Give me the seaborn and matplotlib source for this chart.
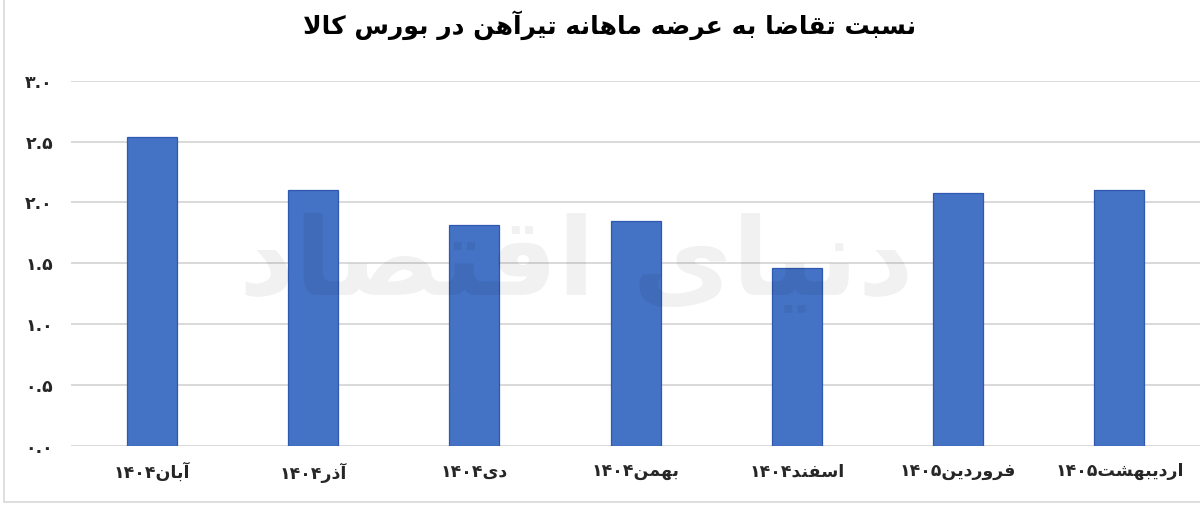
import matplotlib
matplotlib.use('Agg')
import matplotlib.pyplot as plt
import seaborn as sns
import pandas as pd
from matplotlib.lines import Line2D

# data
months = ['آبان', 'آذر', 'دی', 'بهمن', 'اسفند', 'فروردین', 'اردیبهشت']
years = ['۱۴۰۴', '۱۴۰۴', '۱۴۰۴', '۱۴۰۴', '۱۴۰۴', '۱۴۰۵', '۱۴۰۵']
ratio = [2.54, 2.10, 1.81, 1.85, 1.46, 2.08, 2.10]
y_ticks = [0.0, 0.5, 1.0, 1.5, 2.0, 2.5, 3.0]
title = 'نسبت تقاضا به عرضه ماهانه تیرآهن در بورس کالا'
watermark = 'دنیای اقتصاد'

# matplotlib has no arabic shaping, so pick presentation forms by hand
# (isolated, final, initial, medial); right-joining letters have 2 forms only
FORMS = {
    'ا': ('\uFE8D', '\uFE8E'), 'آ': ('\uFE81', '\uFE82'),
    'د': ('\uFEA9', '\uFEAA'), 'ذ': ('\uFEAB', '\uFEAC'),
    'ر': ('\uFEAD', '\uFEAE'), 'ز': ('\uFEAF', '\uFEB0'),
    'و': ('\uFEED', '\uFEEE'),
    'ب': ('\uFE8F', '\uFE90', '\uFE91', '\uFE92'),
    'ت': ('\uFE95', '\uFE96', '\uFE97', '\uFE98'),
    'س': ('\uFEB1', '\uFEB2', '\uFEB3', '\uFEB4'),
    'ش': ('\uFEB5', '\uFEB6', '\uFEB7', '\uFEB8'),
    'ص': ('\uFEB9', '\uFEBA', '\uFEBB', '\uFEBC'),
    'ض': ('\uFEBD', '\uFEBE', '\uFEBF', '\uFEC0'),
    'ع': ('\uFEC9', '\uFECA', '\uFECB', '\uFECC'),
    'ف': ('\uFED1', '\uFED2', '\uFED3', '\uFED4'),
    'ق': ('\uFED5', '\uFED6', '\uFED7', '\uFED8'),
    'ل': ('\uFEDD', '\uFEDE', '\uFEDF', '\uFEE0'),
    'م': ('\uFEE1', '\uFEE2', '\uFEE3', '\uFEE4'),
    'ن': ('\uFEE5', '\uFEE6', '\uFEE7', '\uFEE8'),
    'ه': ('\uFEE9', '\uFEEA', '\uFEEB', '\uFEEC'),
    'ک': ('\uFB8E', '\uFB8F', '\uFB90', '\uFB91'),
    'ی': ('\uFBFC', '\uFBFD', '\uFBFE', '\uFBFF'),
}
LTR = set('۰۱۲۳۴۵۶۷۸۹0123456789.')


def shape(text):
    chars = list(text)
    # lam + alef ligature
    merged = []
    i = 0
    while i < len(chars):
        if chars[i] == 'ل' and i + 1 < len(chars) and chars[i + 1] == 'ا':
            merged.append('LA')
            i += 2
        else:
            merged.append(chars[i])
            i += 1

    def dual(c):
        return c in FORMS and len(FORMS[c]) == 4

    def arabic(c):
        return c in FORMS or c == 'LA'

    out = []
    for i, c in enumerate(merged):
        prev = merged[i - 1] if i > 0 else None
        nxt = merged[i + 1] if i + 1 < len(merged) else None
        pj = prev is not None and dual(prev)
        if c == 'LA':
            out.append('\uFEFC' if pj else '\uFEFB')
            continue
        if c not in FORMS:
            out.append(c)
            continue
        nj = dual(c) and nxt is not None and arabic(nxt)
        f = FORMS[c]
        if pj and nj:
            out.append(f[3])
        elif pj:
            out.append(f[1])
        elif nj:
            out.append(f[2])
        else:
            out.append(f[0])

    # visual order: reverse runs, keep digit runs left-to-right
    runs = []
    for c in out:
        is_ltr = c in LTR
        if runs and runs[-1][0] == is_ltr:
            runs[-1][1].append(c)
        else:
            runs.append([is_ltr, [c]])
    vis = ''
    for is_ltr, cs in reversed(runs):
        vis += ''.join(cs) if is_ltr else ''.join(reversed(cs))
    return vis


def fa_num(v):
    return f'{v:.1f}'.translate(str.maketrans('0123456789', '۰۱۲۳۴۵۶۷۸۹'))


labels = [shape(m + y) for m, y in zip(months, years)]
df = pd.DataFrame({'month': labels, 'ratio': ratio})

sns.set_style('white')
plt.rcParams['font.family'] = ['DejaVu Sans']

fig = plt.figure(figsize=(12, 5.07), dpi=100)
ax = fig.add_axes([0.0592, 0.1209, 0.9408, 0.7199])

sns.barplot(data=df, x='month', y='ratio', color='#4472C4', saturation=1,
            width=0.31, edgecolor='#2F58B0', linewidth=0.9, ax=ax, zorder=3)

ax.set_ylim(0, 3.0)
ax.set_xlim(-0.5, len(labels) - 0.5)
ax.set_yticks(y_ticks)
ax.set_yticklabels([fa_num(v) for v in y_ticks], fontsize=12.5, fontweight='bold')
ax.tick_params(axis='y', length=0, pad=13)
ax.tick_params(axis='x', length=0, pad=12, labelsize=12.5)
for t in ax.get_xticklabels():
    t.set_fontweight('bold')
ax.yaxis.grid(True, color='#D9D9D9', linewidth=1.4, zorder=0)
ax.set_axisbelow(True)
for s in ax.spines.values():
    s.set_visible(False)
ax.set_xlabel('')
ax.set_ylabel('')

fig.text(0.508, 0.950, shape(title), ha='center', va='center',
         fontsize=18, fontweight='bold', color='black')

# faint logo watermark
fig.text(0.48, 0.48, shape(watermark), ha='center', va='center',
         fontsize=78, fontweight='bold', color='black', alpha=0.055, zorder=5)

# chart frame (left and bottom edges visible in the crop)
fig.add_artist(Line2D([0.0035, 0.0035], [0.01, 1.0], color='#D9D9D9', linewidth=1.2))
fig.add_artist(Line2D([0.0035, 1.0], [0.01, 0.01], color='#D9D9D9', linewidth=1.2))

fig.savefig('out.png', dpi=100, facecolor='white')
